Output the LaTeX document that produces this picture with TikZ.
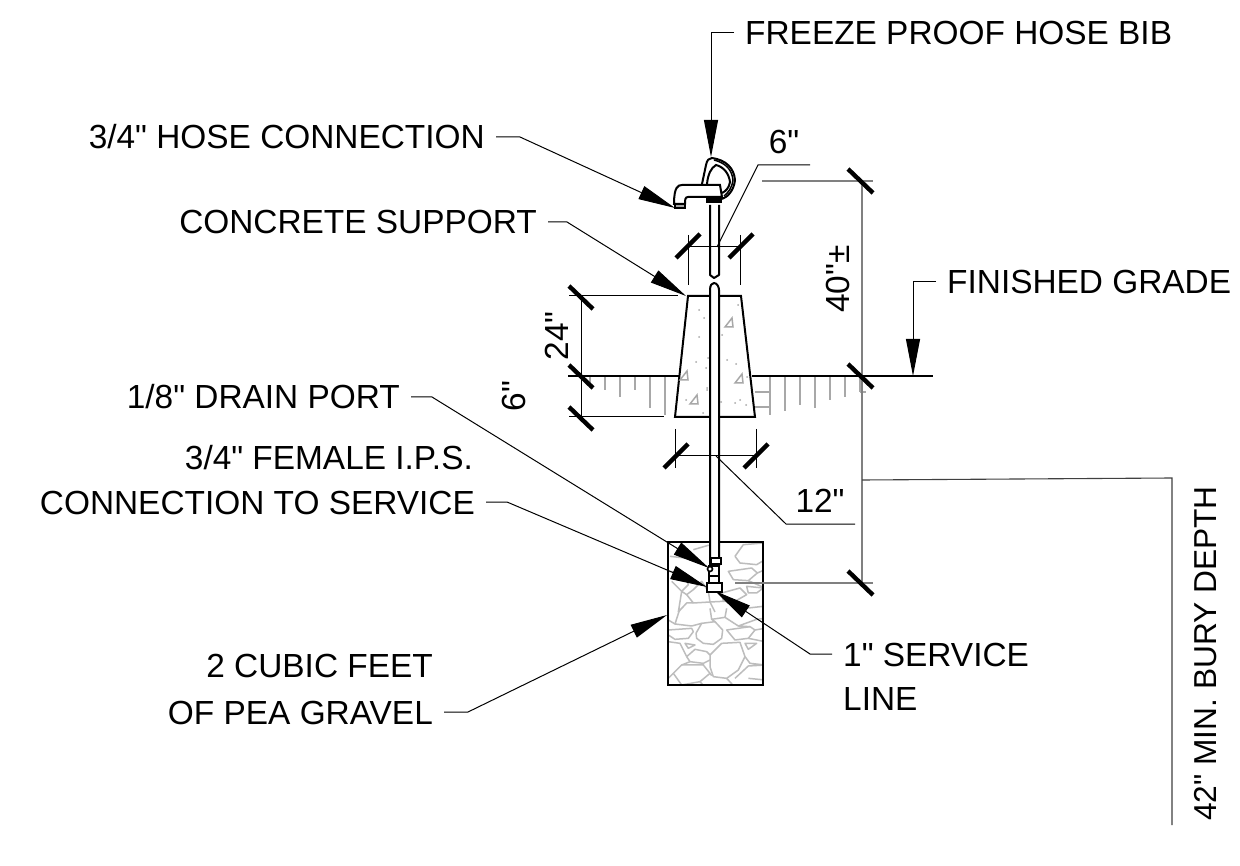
\documentclass[tikz,border=0pt]{standalone}
\usepackage{fontspec}
\setmainfont[Ligatures=TeXOff]{Liberation Sans}
\usetikzlibrary{arrows.meta}
\definecolor{hatchgray}{HTML}{A8A8A8}
\definecolor{stonegray}{HTML}{BDBDBD}
\definecolor{dimgray}{HTML}{808080}
\tikzset{
    calllabel/.style={font=\fontsize{33.4}{33.4}\selectfont, inner sep=11pt, text height=24pt, text depth=0pt},
    dimlabel/.style={font=\fontsize{33.4}{33.4}\selectfont, inner sep=0pt},
    burylabel/.style={font=\fontsize{31.7}{31.7}\selectfont, inner sep=0pt},
    leaderline/.style={line width=1pt, -{Triangle[length=37pt,width=14pt]}},
    plainline/.style={line width=1pt},
    dimtick/.style={line width=4.4pt},
    pipeline/.style={line width=2pt, line join=round},
    stone/.style={stonegray, line width=1.5pt, line join=round},
    hatchline/.style={hatchgray, line width=1.5pt}
}
\begin{document}
\begin{tikzpicture}[x=1pt, y=-1pt]
    \useasboundingbox (0,0) rectangle (1240,866);
    \fill[white] (0,0) rectangle (1240,866);

    % Pea gravel
    \begin{scope}
        \clip (668,542) rectangle (763,685);
        \begin{scope}[shift={(660,538)}, x=0.3333pt, y=-0.3333pt]
            \draw[stone] (225,55) -- (250,20) -- (310,15) (225,55) -- (240,75) -- (290,80) -- (315,65);
            \draw[stone] (205,100) -- (275,90) -- (292,105) -- (265,128) -- (220,125) -- cycle;
            \draw[stone] (260,145) -- (310,150) -- (290,165) -- (265,165) -- cycle;
            \draw[stone] (292,105) -- (315,95) (265,128) -- (315,150);
            \draw[stone] (100,35) -- (145,22) -- (180,22) (30,55) -- (75,60) -- (110,70) -- (140,85);
            \draw[stone] (25,100) -- (75,105) -- (85,140) -- (65,160) -- (35,130);
            \draw[stone] (100,155) -- (125,130) -- (145,160) -- (150,192) -- (100,195) -- (80,170) -- cycle;
            \draw[stone] (185,165) -- (240,150) -- (260,170) -- (225,190) -- (190,190) -- cycle;
            \draw[stone] (65,160) -- (80,170) (65,160) -- (55,222) (150,192) -- (190,190) (225,190) -- (265,210) -- (310,205);
            \draw[stone] (55,222) -- (80,195) -- (100,195) (150,192) -- (165,222);
        \end{scope}
        \begin{scope}[shift={(660,610)}, x=0.3333pt, y=-0.3333pt]
            \draw[stone] (108,70) -- (125,40) -- (165,35) -- (188,60) -- (185,85) -- (160,103) -- (130,100) -- (110,85) -- cycle;
            \draw[stone] (150,135) -- (185,100) -- (240,97) -- (255,140) -- (235,180) -- (200,205) -- (160,200) -- (150,170) -- cycle;
            \draw[stone] (25,60) -- (95,55) -- (100,65) -- (85,85) -- (45,88) -- (25,75);
            \draw[stone] (200,60) -- (270,50) -- (285,60) -- (265,85) -- (225,90) -- cycle;
            \draw[stone] (60,-5) -- (45,42) -- (95,48) -- (125,40);
            \draw[stone] (150,-5) -- (155,28) -- (165,35) (155,28) -- (195,22) -- (200,-5);
            \draw[stone] (195,22) -- (235,48) -- (270,50) (235,48) -- (290,28);
            \draw[stone] (285,60) -- (315,55) (290,28) -- (315,25) (265,85) -- (315,95);
            \draw[stone] (75,100) -- (105,105) -- (85,115) -- cycle;
            \draw[stone] (255,100) -- (290,100) -- (265,118) -- cycle;
            \draw[stone] (80,140) -- (105,118) -- (140,125) -- (150,135) (80,140) -- (90,155) -- (130,160) -- (150,150);
            \draw[stone] (25,95) -- (60,100) -- (80,140);
            \draw[stone] (40,190) -- (65,165) -- (130,165) -- (150,190) -- (120,215) -- (65,225) -- cycle;
            \draw[stone] (65,165) -- (90,155) (130,160) -- (130,165) (150,190) -- (155,197) (25,205) -- (40,190);
            \draw[stone] (120,215) -- (135,232) (65,225) -- (60,232) (200,205) -- (225,232);
            \draw[stone] (225,205) -- (265,168) -- (315,165) (255,140) -- (270,160) -- (315,165);
            \draw[stone] (45,42) -- (25,30) (265,205) -- (315,210);
        \end{scope}
    \end{scope}
    \draw[line width=2.2pt] (668,542) rectangle (763,685);

    % Ground hatching
    \foreach \x/\len in {590/388, 605/390, 620/397, 635/390, 650/408, 665/415, 770/415, 785/411, 800/405, 815/408, 830/400, 845/397, 860/392} {
        \draw[hatchline] (\x,376) -- (\x,\len);
    }
    \foreach \y in {392, 407} {
        \draw[hatchline] (755,\y) -- (770,\y);
    }
    \draw[hatchline] (860,392) -- (866,392);

    % Concrete support
    \draw[line width=2pt, fill=white] (688,296) -- (741,296) -- (755,417) -- (675,417) -- cycle;
    \foreach \x/\y in {699/310, 704/318, 699/337, 696/362, 706/368, 707/390, 703/413, 707/388, 738/305, 722/335, 727/360, 736/364, 747/377, 721/402, 735/403, 746/405, 708/358, 740/400, 686/400} {
        \fill[hatchgray] (\x,\y) circle (1pt);
    }
    \foreach \x/\y in {730/323, 740/379, 695/400, 685/376} {
        \draw[hatchgray, line width=1.5pt] (\x-5,\y+4) -- (\x+2,\y-5) -- (\x+3,\y+4) -- cycle;
    }

    % Grade
    \draw[line width=2pt] (568,376) -- (680,376);
    \draw[line width=2pt] (752,376) -- (933,376);

    % Pipe
    \draw[pipeline] (710,205) -- (710,275) -- (714,278) -- (719,275) -- (719,205);
    \draw[pipeline, fill=white] (710,566) -- (710,290) .. controls (710,285) and (712,283) .. (714,283) .. controls (717,283) and (719,287) .. (719,290) -- (719,566);

    % Hose bib
    \draw[line width=2pt, fill=white] (674,204) .. controls (674,187) and (678,185) .. (682,185) -- (720,185) -- (722,197) -- (688,197) .. controls (685,197) and (685,200) .. (685,204) -- cycle;
    \fill[hatchgray] (675,204) rectangle (685,208);
    \draw[line width=1.2pt] (675,204) rectangle (685,208);
    \draw[line width=2pt, line join=round] (702,184) -- (706,165) .. controls (707,160) and (709,158) .. (712,158) .. controls (726,160) and (734,168) .. (735,180) .. controls (734,190) and (728,197) .. (722,199);
    \draw[line width=2pt] (707,184) .. controls (708,174) and (711,168) .. (716,165) .. controls (724,167) and (729,174) .. (730,182) .. controls (729,188) and (726,191) .. (722,193);
    \draw[line width=1.5pt] (714,160) .. controls (726,163) and (732,170) .. (733,180) .. controls (732,188) and (728,193) .. (724,196);
    \fill (706,197) rectangle (722,203);

    % Drain and service fittings
    \draw[line width=2pt, fill=white] (709,566) rectangle (719,583);
    \draw[line width=2.4pt, fill=white] (711,558) rectangle (721,564);
    \draw[line width=1.6pt, fill=white] (710,569) circle (2.5pt);
    \draw[line width=1.8pt] (709,576) -- (719,576);
    \draw[line width=2pt, fill=white] (707,583) rectangle (722,592);

    % Dimensions, left
    \draw[plainline] (569,296) -- (678,296);
    \draw[plainline] (569,417) -- (664,417);
    \draw[plainline] (581,296) -- (581,417);
    \foreach \y in {297, 376, 418} {
        \draw[dimtick] (569,\y-11) -- (593,\y+12);
    }
    \node[dimlabel, rotate=90] (dimtwentyfour) at (557,336) {24"};
    \node[dimlabel, rotate=90] (dimsixleft) at (514,396) {6"};

    % Dimensions, top
    \draw[plainline] (688,235) -- (688,285);
    \draw[plainline] (740,235) -- (740,285);
    \draw[plainline] (688,247) -- (740,247);
    \foreach \x in {688, 741} {
        \draw[dimtick] (\x-12,258) -- (\x+12,234);
    }
    \node[dimlabel] (dimsixtop) at (784,142) {6"};
    \coordinate (dimsixfoot) at (717,247);
    \draw[plainline] (810,165) -- (758,165) -- (dimsixfoot);

    % Dimensions, bottom
    \draw[plainline] (675,429) -- (675,468);
    \draw[plainline] (756,429) -- (756,468);
    \draw[plainline] (675,456) -- (756,456);
    \foreach \x in {676, 756} {
        \draw[dimtick] (\x-12,468) -- (\x+12,444);
    }
    \node[dimlabel] (dimtwelve) at (820,501) {12"};
    \coordinate (dimtwelvefoot) at (716,456);
    \draw[plainline] (855,524) -- (786,524) -- (dimtwelvefoot);

    % Dimensions, right
    \draw[dimgray, line width=1.2pt] (762,181) -- (873,181);
    \draw[dimgray, line width=1.2pt] (735,583) -- (873,583);
    \draw[dimgray, line width=1.6pt] (862,181) -- (862,583);
    \foreach \y in {181, 376, 583} {
        \draw[dimtick] (848,\y-12) -- (873,\y+12);
    }
    \node[dimlabel, rotate=90] (dimforty) at (838,279) {40"±};

    % Bury depth
    \node[burylabel, rotate=90] (burydepth) at (1206,653.5) {42" MIN. BURY DEPTH};
    \draw[black!75, line width=1.1pt] (862,480) -- (1172,478) -- (1172,825);

    % Callouts
    \coordinate (biptip) at (711,157);
    \node[calllabel, anchor=west] (bib) at (734,33) {FREEZE PROOF HOSE BIB};
    \draw[leaderline] (bib.west) -- (711,33) -- (biptip);

    \coordinate (hosetip) at (675,208);
    \node[calllabel, anchor=east] (hose) at (496,137) {3/4" HOSE CONNECTION};
    \draw[leaderline] (hose.east) -- (520,137) -- (hosetip);

    \coordinate (supporttip) at (686,296);
    \node[calllabel, anchor=east] (support) at (548,222) {CONCRETE SUPPORT};
    \draw[leaderline] (support.east) -- (567,222) -- (supporttip);

    \coordinate (gradetip) at (913,376);
    \node[calllabel, anchor=west] (grade) at (936,282) {FINISHED GRADE};
    \draw[leaderline] (grade.west) -- (913,282) -- (gradetip);

    \coordinate (draintip) at (709,568);
    \node[calllabel, anchor=east] (drain) at (411,397) {1/8" DRAIN PORT};
    \draw[leaderline] (drain.east) -- (432,397) -- (draintip);

    \coordinate (femaletip) at (707,587);
    \node[calllabel, anchor=east] (femaletop) at (484,458) {3/4" FEMALE I.P.S.};
    \node[calllabel, anchor=east] (female) at (486,502) {CONNECTION TO SERVICE};
    \draw[leaderline] (female.east) -- (507,502) -- (femaletip);

    \coordinate (servicetip) at (715,591);
    \node[calllabel, anchor=west] (service) at (832,654) {1" SERVICE};
    \node[calllabel, anchor=west] (serviceline) at (832,698) {LINE};
    \draw[leaderline] (service.west) -- (810,654) -- (servicetip);

    \coordinate (graveltip) at (667,615);
    \node[calllabel, anchor=east] (cubicfeet) at (444,665) {2 CUBIC FEET};
    \node[calllabel, anchor=east] (gravel) at (444,712) {OF PEA GRAVEL};
    \draw[leaderline] (gravel.east) -- (468,712) -- (graveltip);
\end{tikzpicture}
\end{document}
